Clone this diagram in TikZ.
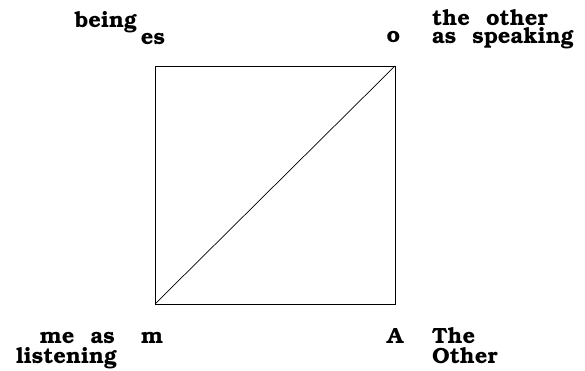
\documentclass[tikz,border=0pt]{standalone}
\usepackage[T1]{fontenc}
\usepackage{bookman}
\newcommand\lblfont{\fontsize{22}{22}\selectfont\bfseries\spaceskip 16pt\relax}
\begin{document}
\begin{tikzpicture}[x=1pt,y=-1pt,
  lbl/.style={inner sep=0pt,font=\lblfont},
  edge/.style={line width=0.7pt}]
\useasboundingbox (0,0) rectangle (585,371);
\coordinate (m) at (155,304);
\coordinate (A) at (395,304);
\coordinate (o) at (395,66);
\coordinate (es) at (155,66);
\draw[edge] (m) -- (A) -- (o) -- (es) -- cycle;
\draw[edge] (m) -- (o);
\node[lbl,anchor=base] (tes) at (153,45) {es};
\node[lbl,anchor=base east] (tbeing) at (137,28) {being};
\node[lbl,anchor=base] (to) at (393.5,43) {o};
\node[lbl,anchor=base west] (tother1) at (432,26) {the other};
\node[lbl,anchor=base west] (tother2) at (432,44) {as speaking};
\node[lbl,anchor=base] (tm) at (152,343) {m};
\node[lbl,anchor=base east] (tme1) at (115,343) {me as};
\node[lbl,anchor=base east] (tme2) at (117,363) {listening};
\node[lbl,anchor=base] (tA) at (395,343) {A};
\node[lbl,anchor=base west] (tThe) at (432,343) {The};
\node[lbl,anchor=base west] (tOther) at (432,363) {Other};
\end{tikzpicture}
\end{document}
